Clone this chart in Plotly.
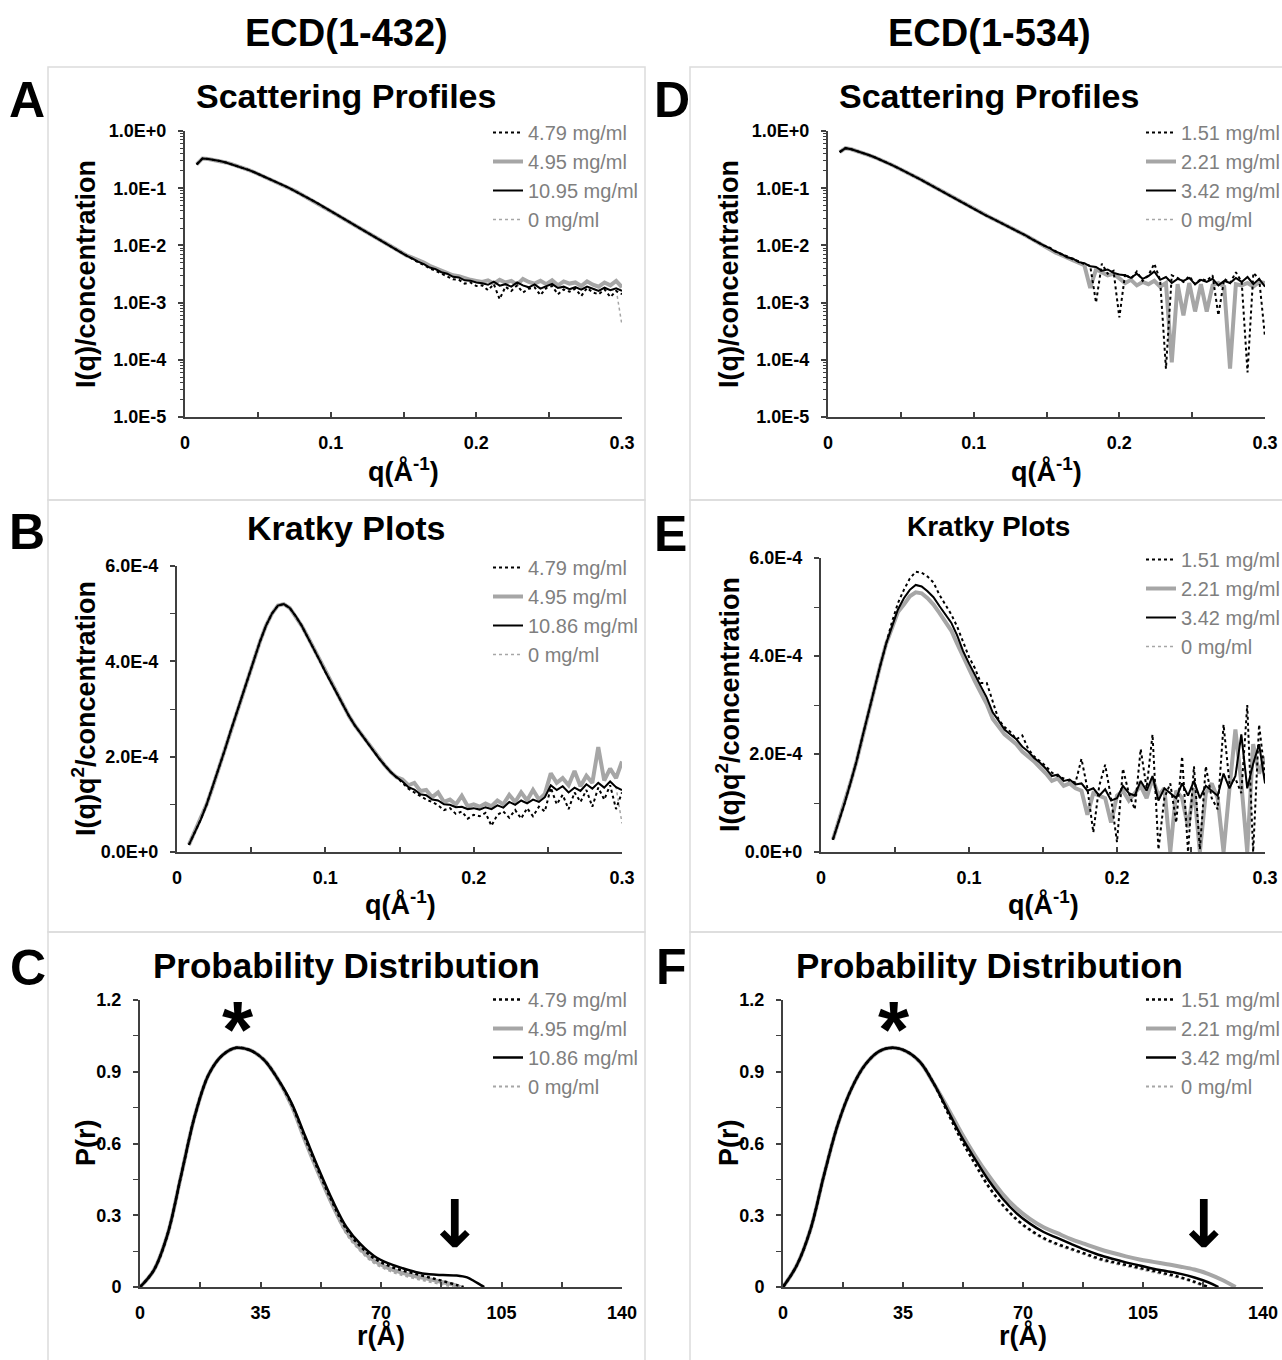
import plotly.graph_objects as go

W, H = 1282, 1360
FONT = "Liberation Sans, Arial, sans-serif"
AX = "#404040"
GRAY = "#a6a6a6"

# ---------------- data ----------------
q = [0.008, 0.012, 0.016, 0.020, 0.024, 0.028, 0.032, 0.036, 0.040, 0.044,
     0.048, 0.052, 0.056, 0.060, 0.064, 0.068, 0.072, 0.076, 0.080, 0.084,
     0.088, 0.092, 0.096, 0.100, 0.104, 0.108, 0.112, 0.116, 0.120, 0.124,
     0.128, 0.132, 0.136, 0.140, 0.144, 0.148, 0.152, 0.156, 0.160, 0.164,
     0.168, 0.172, 0.176, 0.180, 0.184, 0.188, 0.192, 0.196, 0.200, 0.204,
     0.208, 0.212, 0.216, 0.220, 0.224, 0.228, 0.232, 0.236, 0.240, 0.244,
     0.248, 0.252, 0.256, 0.260, 0.264, 0.268, 0.272, 0.276, 0.280, 0.284,
     0.288, 0.292, 0.296, 0.300]

names_432_a = ["4.79 mg/ml", "4.95 mg/ml", "10.95 mg/ml", "0 mg/ml"]
names_432 = ["4.79 mg/ml", "4.95 mg/ml", "10.86 mg/ml", "0 mg/ml"]
names_534 = ["1.51 mg/ml", "2.21 mg/ml", "3.42 mg/ml", "0 mg/ml"]

# Panel A : scattering profile ECD(1-432)
a_smooth = [0.26, 0.331, 0.324, 0.313, 0.299, 0.282, 0.263, 0.245, 0.226, 0.207,
            0.188, 0.170, 0.153, 0.138, 0.124, 0.111, 0.0989, 0.0881, 0.0776, 0.0684,
            0.0603, 0.0525, 0.0457, 0.0398, 0.0347, 0.0302, 0.0263, 0.0229, 0.0200, 0.0174,
            0.0151, 0.0130, 0.0112, 0.00977, 0.00851, 0.00759]
a_mid_s1 = [0.00650, 0.00580, 0.00505, 0.00455, 0.00395, 0.00360, 0.00320, 0.00290, 0.00255, 0.00250, 0.00215, 0.00225, 0.00195]
a_mid_s2 = [0.00670, 0.00610, 0.00560, 0.00500, 0.00440, 0.00400, 0.00370, 0.00330, 0.00300, 0.00290, 0.00265, 0.00250, 0.00240]
a_mid_s3 = [0.00661, 0.00595, 0.00520, 0.00472, 0.00410, 0.00385, 0.00340, 0.00320, 0.00282, 0.00275, 0.00245, 0.00242, 0.00225]
a_tail_s1 = [0.00200, 0.00165, 0.00210, 0.00115, 0.00190, 0.00160, 0.00200, 0.00150, 0.00175, 0.00185,
             0.00135, 0.00180, 0.00195, 0.00140, 0.00170, 0.00155, 0.00175, 0.00130, 0.00180, 0.00150,
             0.00140, 0.00170, 0.00125, 0.00160, 0.00140]
a_tail_s2 = [0.00230, 0.00245, 0.00215, 0.00250, 0.00225, 0.00240, 0.00205, 0.00260, 0.00230, 0.00215,
             0.00240, 0.00210, 0.00245, 0.00200, 0.00235, 0.00215, 0.00225, 0.00195, 0.00235, 0.00205,
             0.00190, 0.00225, 0.00200, 0.00240, 0.00185]
a_tail_s3 = [0.00218, 0.00205, 0.00232, 0.00198, 0.00210, 0.00190, 0.00225, 0.00200, 0.00185, 0.00208,
             0.00176, 0.00195, 0.00212, 0.00180, 0.00190, 0.00172, 0.00186, 0.00168, 0.00190, 0.00175,
             0.00160, 0.00182, 0.00165, 0.00178, 0.00160]
a_tail_s4 = [0.00215, 0.00205, 0.00225, 0.00195, 0.00205, 0.00190, 0.00220, 0.00198, 0.00185, 0.00205,
             0.00178, 0.00192, 0.00208, 0.00180, 0.00188, 0.00172, 0.00184, 0.00168, 0.00186, 0.00174,
             0.00162, 0.00178, 0.00165, 0.00170, 0.00040]

# Panel D : scattering profile ECD(1-534)
d_smooth = [0.427, 0.501, 0.479, 0.447, 0.412, 0.380, 0.347, 0.316, 0.282, 0.254,
            0.226, 0.202, 0.180, 0.158, 0.140, 0.123, 0.108, 0.0955, 0.0832, 0.0724,
            0.0646, 0.0562, 0.0490, 0.0427, 0.0380, 0.0339, 0.0302, 0.0269, 0.0240, 0.0214,
            0.0191, 0.0170, 0.0148, 0.0129, 0.0112, 0.0100]
d_mid_s1 = [0.0092, 0.0080, 0.0070, 0.0065, 0.0057, 0.0053, 0.0047, 0.0044, 0.0010, 0.0048, 0.0032, 0.0036, 0.00055]
d_mid_s2 = [0.0085, 0.0075, 0.0068, 0.0060, 0.0055, 0.0050, 0.0045, 0.0018, 0.0038, 0.0034, 0.0030, 0.0032, 0.0026]
d_mid_s3 = [0.0090, 0.0078, 0.0072, 0.0062, 0.0059, 0.0051, 0.0049, 0.0043, 0.0042, 0.0036, 0.0038, 0.0033, 0.0031]
d_tail_s1 = [0.0032, 0.0026, 0.0035, 0.0024, 0.0030, 0.0048, 0.0025, 0.00007, 0.0030, 0.0027,
             0.0023, 0.0029, 0.0021, 0.0026, 0.0024, 0.0030, 0.00060, 0.0026, 0.0022, 0.0034,
             0.0023, 0.00006, 0.0033, 0.0026, 0.00025]
d_tail_s2 = [0.0022, 0.0025, 0.0020, 0.0023, 0.0021, 0.0024, 0.0019, 0.0022, 0.00009, 0.0021,
             0.00060, 0.0022, 0.00070, 0.0021, 0.00070, 0.0020, 0.0022, 0.0019, 0.00007, 0.0021,
             0.0020, 0.0022, 0.0019, 0.0023, 0.0022]
d_tail_s3 = [0.0030, 0.0027, 0.0032, 0.0026, 0.0029, 0.0035, 0.0025, 0.0028, 0.0022, 0.0026,
             0.0024, 0.0027, 0.0021, 0.0025, 0.0023, 0.0026, 0.0020, 0.0024, 0.0022, 0.0027,
             0.0023, 0.0028, 0.0021, 0.0026, 0.0019]

# Panel B : Kratky ECD(1-432)
b_smooth = [0.15e-4, 0.42e-4, 0.68e-4, 1.00e-4, 1.36e-4, 1.74e-4, 2.12e-4, 2.52e-4, 2.90e-4, 3.30e-4,
            3.70e-4, 4.08e-4, 4.42e-4, 4.75e-4, 5.00e-4, 5.17e-4, 5.20e-4, 5.12e-4, 4.95e-4, 4.75e-4,
            4.52e-4, 4.28e-4, 4.03e-4, 3.78e-4, 3.54e-4, 3.30e-4, 3.07e-4, 2.85e-4, 2.65e-4, 2.48e-4,
            2.30e-4, 2.13e-4, 1.97e-4, 1.82e-4, 1.68e-4, 1.57e-4]
b_mid_s1 = [1.45e-4, 1.33e-4, 1.25e-4, 1.18e-4, 1.10e-4, 1.05e-4, 0.98e-4, 0.88e-4, 0.92e-4, 0.80e-4, 0.85e-4, 0.70e-4, 0.78e-4]
b_mid_s2 = [1.52e-4, 1.40e-4, 1.45e-4, 1.28e-4, 1.30e-4, 1.15e-4, 1.25e-4, 1.05e-4, 1.10e-4, 1.00e-4, 1.18e-4, 0.96e-4, 1.00e-4]
b_mid_s3 = [1.48e-4, 1.36e-4, 1.31e-4, 1.21e-4, 1.19e-4, 1.10e-4, 1.08e-4, 1.00e-4, 0.99e-4, 0.94e-4, 0.95e-4, 0.90e-4, 0.92e-4]
b_tail_s1 = [0.75e-4, 0.82e-4, 0.55e-4, 0.78e-4, 0.85e-4, 0.72e-4, 0.88e-4, 0.70e-4, 0.92e-4, 0.75e-4,
             0.95e-4, 0.85e-4, 1.35e-4, 1.00e-4, 1.20e-4, 0.90e-4, 1.25e-4, 1.05e-4, 1.30e-4, 0.95e-4,
             1.35e-4, 1.10e-4, 1.40e-4, 0.90e-4, 1.25e-4]
b_tail_s2 = [0.95e-4, 1.02e-4, 0.96e-4, 1.08e-4, 1.00e-4, 1.20e-4, 1.05e-4, 1.25e-4, 1.08e-4, 1.30e-4,
             1.10e-4, 1.22e-4, 1.65e-4, 1.45e-4, 1.55e-4, 1.40e-4, 1.70e-4, 1.38e-4, 1.60e-4, 1.45e-4,
             2.20e-4, 1.50e-4, 1.75e-4, 1.55e-4, 1.90e-4]
b_tail_s3 = [0.89e-4, 0.94e-4, 0.90e-4, 0.98e-4, 0.93e-4, 1.05e-4, 0.99e-4, 1.08e-4, 1.02e-4, 1.10e-4,
             1.05e-4, 1.15e-4, 1.40e-4, 1.30e-4, 1.38e-4, 1.25e-4, 1.35e-4, 1.28e-4, 1.42e-4, 1.33e-4,
             1.45e-4, 1.35e-4, 1.48e-4, 1.36e-4, 1.30e-4]
b_tail_s4 = [0.89e-4, 0.94e-4, 0.90e-4, 0.98e-4, 0.93e-4, 1.05e-4, 0.99e-4, 1.08e-4, 1.02e-4, 1.10e-4,
             1.05e-4, 1.15e-4, 1.40e-4, 1.30e-4, 1.38e-4, 1.25e-4, 1.35e-4, 1.28e-4, 1.42e-4, 1.33e-4,
             1.45e-4, 1.35e-4, 1.48e-4, 1.36e-4, 0.60e-4]

# Panel E : Kratky ECD(1-534)
e_head = [0.25e-4, 0.62e-4, 1.00e-4, 1.42e-4, 1.85e-4, 2.35e-4, 2.85e-4, 3.30e-4, 3.80e-4, 4.25e-4]
e_body_s1 = [4.70e-4, 5.08e-4, 5.35e-4, 5.58e-4, 5.72e-4, 5.70e-4, 5.62e-4, 5.50e-4, 5.25e-4, 5.05e-4,
             4.85e-4, 4.60e-4, 4.30e-4, 3.98e-4, 3.75e-4, 3.45e-4, 3.45e-4, 3.05e-4, 2.70e-4, 2.55e-4,
             2.45e-4, 2.30e-4, 2.38e-4, 2.10e-4, 1.95e-4, 1.85e-4]
e_body_s2 = [4.60e-4, 4.90e-4, 5.05e-4, 5.22e-4, 5.30e-4, 5.28e-4, 5.18e-4, 5.05e-4, 4.88e-4, 4.70e-4,
             4.52e-4, 4.25e-4, 3.98e-4, 3.72e-4, 3.48e-4, 3.25e-4, 3.02e-4, 2.72e-4, 2.55e-4, 2.40e-4,
             2.30e-4, 2.20e-4, 2.05e-4, 1.95e-4, 1.85e-4, 1.72e-4]
e_body_s3 = [4.62e-4, 4.95e-4, 5.18e-4, 5.35e-4, 5.45e-4, 5.42e-4, 5.32e-4, 5.20e-4, 5.02e-4, 4.85e-4,
             4.68e-4, 4.42e-4, 4.10e-4, 3.85e-4, 3.60e-4, 3.38e-4, 3.15e-4, 2.85e-4, 2.68e-4, 2.50e-4,
             2.40e-4, 2.30e-4, 2.15e-4, 2.05e-4, 1.92e-4, 1.82e-4]
e_mid_s1 = [1.75e-4, 1.62e-4, 1.55e-4, 1.50e-4, 1.45e-4, 1.42e-4, 1.90e-4, 1.30e-4, 0.40e-4, 1.35e-4, 1.78e-4, 1.10e-4, 0.20e-4]
e_mid_s2 = [1.60e-4, 1.45e-4, 1.50e-4, 1.35e-4, 1.40e-4, 1.30e-4, 1.25e-4, 0.76e-4, 1.20e-4, 1.15e-4, 1.10e-4, 0.60e-4, 1.15e-4]
e_mid_s3 = [1.70e-4, 1.55e-4, 1.58e-4, 1.45e-4, 1.48e-4, 1.38e-4, 1.40e-4, 1.25e-4, 1.30e-4, 1.15e-4, 1.28e-4, 1.05e-4, 1.10e-4]
e_tail_s1 = [1.70e-4, 1.20e-4, 0.87e-4, 2.10e-4, 1.30e-4, 2.40e-4, 0.05e-4, 1.10e-4, 1.40e-4, 0.60e-4,
             1.95e-4, 0.00e-4, 1.75e-4, 0.05e-4, 1.75e-4, 1.10e-4, 0.87e-4, 2.60e-4, 1.40e-4, 1.50e-4,
             1.20e-4, 3.00e-4, 0.00e-4, 2.60e-4, 1.55e-4]
e_tail_s2 = [1.25e-4, 1.05e-4, 1.20e-4, 1.35e-4, 1.10e-4, 1.50e-4, 1.15e-4, 1.30e-4, 0.00e-4, 1.25e-4,
             1.10e-4, 0.50e-4, 1.30e-4, 0.00e-4, 1.20e-4, 1.40e-4, 1.10e-4, 0.00e-4, 1.30e-4, 2.50e-4,
             1.40e-4, 0.00e-4, 2.20e-4, 1.60e-4, 1.95e-4]
e_tail_s3 = [1.35e-4, 1.20e-4, 1.15e-4, 1.45e-4, 1.25e-4, 1.55e-4, 1.05e-4, 1.30e-4, 1.20e-4, 1.10e-4,
             1.40e-4, 1.15e-4, 1.45e-4, 1.10e-4, 1.35e-4, 1.25e-4, 1.15e-4, 1.60e-4, 1.30e-4, 1.55e-4,
             2.40e-4, 1.30e-4, 1.80e-4, 2.20e-4, 1.40e-4]

# Panel C : P(r) ECD(1-432)
c_r_head = [0, 4, 8, 12, 16, 20, 24, 28, 32, 36, 40]
c_p_head = [0.0, 0.07, 0.22, 0.47, 0.72, 0.89, 0.97, 1.0, 0.99, 0.95, 0.87]
c_r_s1 = [44, 48, 52, 56, 60, 64, 68, 72, 76, 80, 84, 88, 92, 94]
c_p_s1 = [0.765, 0.62, 0.48, 0.35, 0.24, 0.17, 0.12, 0.09, 0.07, 0.055, 0.04, 0.025, 0.008, 0.0]
c_r_s2 = [44, 48, 52, 56, 60, 64, 68, 72, 76, 80, 84, 88, 92, 93]
c_p_s2 = [0.76, 0.61, 0.47, 0.34, 0.23, 0.16, 0.11, 0.08, 0.06, 0.045, 0.033, 0.02, 0.006, 0.0]
c_r_s3 = [44, 48, 52, 56, 60, 64, 68, 72, 76, 80, 84, 88, 92, 95, 97, 99, 100]
c_p_s3 = [0.77, 0.63, 0.49, 0.36, 0.25, 0.18, 0.13, 0.10, 0.08, 0.063, 0.053, 0.05, 0.048, 0.04, 0.025, 0.008, 0.0]
c_r_s4 = [44, 48, 52, 56, 60, 64, 68, 72, 76, 80, 84, 88, 91]
c_p_s4 = [0.76, 0.61, 0.465, 0.335, 0.22, 0.15, 0.10, 0.07, 0.05, 0.035, 0.022, 0.01, 0.0]

# Panel F : P(r) ECD(1-534)
f_r_head = [0, 4, 8, 12, 16, 20, 24, 28, 32, 36, 40, 44]
f_p_head = [0.0, 0.09, 0.24, 0.47, 0.68, 0.83, 0.93, 0.985, 1.0, 0.985, 0.94, 0.85]
f_r_s1 = [48, 52, 56, 60, 64, 68, 72, 76, 80, 84, 88, 92, 96, 100, 104, 108, 112, 116, 120, 124]
f_p_s1 = [0.73, 0.615, 0.515, 0.42, 0.345, 0.285, 0.24, 0.205, 0.18, 0.16, 0.14, 0.12, 0.105, 0.093, 0.08, 0.068, 0.055, 0.04, 0.022, 0.0]
f_r_s2 = [48, 52, 56, 60, 64, 68, 72, 76, 80, 84, 88, 92, 96, 100, 104, 108, 112, 116, 120, 124, 128, 132]
f_p_s2 = [0.75, 0.645, 0.55, 0.465, 0.39, 0.33, 0.285, 0.25, 0.225, 0.20, 0.18, 0.16, 0.143, 0.128, 0.115, 0.105, 0.095, 0.085, 0.073, 0.055, 0.03, 0.0]
f_r_s3 = [48, 52, 56, 60, 64, 68, 72, 76, 80, 84, 88, 92, 96, 100, 104, 108, 112, 116, 120, 124, 127]
f_p_s3 = [0.74, 0.63, 0.535, 0.445, 0.37, 0.31, 0.265, 0.23, 0.205, 0.18, 0.156, 0.135, 0.118, 0.103, 0.09, 0.076, 0.066, 0.055, 0.04, 0.02, 0.0]
f_r_s4 = [48, 52, 56, 60, 64, 68, 72, 76, 80, 84, 88, 92, 96, 100, 104, 108, 112, 116, 120, 123]
f_p_s4 = [0.73, 0.615, 0.51, 0.415, 0.34, 0.28, 0.235, 0.2, 0.175, 0.155, 0.135, 0.115, 0.1, 0.088, 0.075, 0.062, 0.05, 0.036, 0.018, 0.0]

log_tickvals = [1e-5, 1e-4, 1e-3, 1e-2, 1e-1, 1]
log_ticktext = ["1.0E-5", "1.0E-4", "1.0E-3", "1.0E-2", "1.0E-1", "1.0E+0"]
k_tickvals = [0, 2e-4, 4e-4, 6e-4]
k_ticktext = ["0.0E+0", "2.0E-4", "4.0E-4", "6.0E-4"]
p_tickvals = [0, 0.3, 0.6, 0.9, 1.2]
p_ticktext = ["0", "0.3", "0.6", "0.9", "1.2"]
q_tickvals = [0, 0.1, 0.2, 0.3]
q_ticktext = ["0", "0.1", "0.2", "0.3"]
r_tickvals = [0, 35, 70, 105, 140]
r_ticktext = ["0", "35", "70", "105", "140"]

# ---------------- styles ----------------
ST_Q = {
    "s1": dict(color="black", width=2, dash="dot"),
    "s2": dict(color=GRAY, width=4),
    "s3": dict(color="black", width=2),
    "s4": dict(color=GRAY, width=1.5, dash="dot"),
}
ST_P = {
    "s1": dict(color="black", width=2.5, dash="dot"),
    "s2": dict(color=GRAY, width=4),
    "s3": dict(color="black", width=2.5),
    "s4": dict(color=GRAY, width=2, dash="dot"),
}

fig = go.Figure()


def add(xs, ys, name, style, xa, ya, leg, rank, shape="linear"):
    fig.add_trace(go.Scatter(
        x=xs, y=ys, name=name, mode="lines",
        line=dict(shape=shape, **style),
        xaxis=xa, yaxis=ya, legend=leg, legendrank=rank,
    ))


def add_q_panel(xa, ya, leg, names, series):
    # draw order: s4, s2, s3, s1 ; legend order s1..s4
    for key, rank in (("s4", 4), ("s2", 2), ("s3", 3), ("s1", 1)):
        add(q, series[key], names[rank - 1], ST_Q[key], xa, ya, leg, rank)


def add_p_panel(xa, ya, leg, names, series):
    for key, rank in (("s4", 4), ("s2", 2), ("s3", 3), ("s1", 1)):
        xs, ys = series[key]
        add(xs, ys, names[rank - 1], ST_P[key], xa, ya, leg, rank, shape="spline")


add_q_panel("x", "y", "legend", names_432_a, {
    "s1": a_smooth + a_mid_s1 + a_tail_s1,
    "s2": a_smooth + a_mid_s2 + a_tail_s2,
    "s3": a_smooth + a_mid_s3 + a_tail_s3,
    "s4": a_smooth + a_mid_s3 + a_tail_s4,
})
add_q_panel("x2", "y2", "legend2", names_432, {
    "s1": b_smooth + b_mid_s1 + b_tail_s1,
    "s2": b_smooth + b_mid_s2 + b_tail_s2,
    "s3": b_smooth + b_mid_s3 + b_tail_s3,
    "s4": b_smooth + b_mid_s3 + b_tail_s4,
})
add_p_panel("x3", "y3", "legend3", names_432, {
    "s1": (c_r_head + c_r_s1, c_p_head + c_p_s1),
    "s2": (c_r_head + c_r_s2, c_p_head + c_p_s2),
    "s3": (c_r_head + c_r_s3, c_p_head + c_p_s3),
    "s4": (c_r_head + c_r_s4, c_p_head + c_p_s4),
})
add_q_panel("x4", "y4", "legend4", names_534, {
    "s1": d_smooth + d_mid_s1 + d_tail_s1,
    "s2": d_smooth + d_mid_s2 + d_tail_s2,
    "s3": d_smooth + d_mid_s3 + d_tail_s3,
    "s4": d_smooth + d_mid_s3 + d_tail_s3,
})
add_q_panel("x5", "y5", "legend5", names_534, {
    "s1": e_head + e_body_s1 + e_mid_s1 + e_tail_s1,
    "s2": e_head + e_body_s2 + e_mid_s2 + e_tail_s2,
    "s3": e_head + e_body_s3 + e_mid_s3 + e_tail_s3,
    "s4": e_head + e_body_s3 + e_mid_s3 + e_tail_s3,
})
add_p_panel("x6", "y6", "legend6", names_534, {
    "s1": (f_r_head + f_r_s1, f_p_head + f_p_s1),
    "s2": (f_r_head + f_r_s2, f_p_head + f_p_s2),
    "s3": (f_r_head + f_r_s3, f_p_head + f_p_s3),
    "s4": (f_r_head + f_r_s4, f_p_head + f_p_s4),
})

# ---------------- axes ----------------
TICKFONT = dict(family=FONT, size=18, color="black", weight="bold")


def xaxis(px0, px1, anchor, rng, tv, tt, minor_vals):
    return dict(
        domain=[px0 / W, px1 / W], anchor=anchor, range=rng,
        tickmode="array", tickvals=tv, ticktext=tt,
        ticks="inside", ticklen=5, tickwidth=1.5, tickcolor=AX,
        minor=dict(tickmode="array", tickvals=minor_vals, ticks="inside",
                   ticklen=5, tickwidth=1.5, tickcolor=AX, showgrid=False),
        showline=True, linecolor=AX, linewidth=2,
        showgrid=False, zeroline=False, tickfont=TICKFONT,
        ticklabelstandoff=8, fixedrange=True, automargin=False,
    )


def yaxis(py_top, py_bot, anchor, rng, tv, tt, minor_vals, typ="linear", minor_len=5):
    return dict(
        domain=[1 - py_bot / H, 1 - py_top / H], anchor=anchor, range=rng, type=typ,
        tickmode="array", tickvals=tv, ticktext=tt,
        ticks="outside", ticklen=5, tickwidth=1.5, tickcolor=AX,
        minor=dict(tickmode="array", tickvals=minor_vals, ticks="outside",
                   ticklen=minor_len, tickwidth=1, tickcolor=AX, showgrid=False),
        showline=True, linecolor=AX, linewidth=2,
        showgrid=False, zeroline=False, tickfont=TICKFONT,
        ticklabelstandoff=8, fixedrange=True, automargin=False,
    )


log_minor = [m * 10.0 ** e for e in range(-5, 0) for m in range(2, 10)]
q_minor = [0.05, 0.15, 0.25]
r_minor = [17.5, 52.5, 87.5, 122.5]
k_minor = [1e-4, 3e-4, 5e-4]
p_minor = [0.15, 0.45, 0.75, 1.05]

fig.update_layout(
    xaxis=xaxis(185, 622, "y", [0, 0.3], q_tickvals, q_ticktext, q_minor),
    yaxis=yaxis(131, 417, "x", [-5, 0], log_tickvals, log_ticktext, log_minor, "log", 3),
    xaxis2=xaxis(177, 622, "y2", [0, 0.3], q_tickvals, q_ticktext, q_minor),
    yaxis2=yaxis(566, 852, "x2", [0, 6e-4], k_tickvals, k_ticktext, k_minor),
    xaxis3=xaxis(140, 622, "y3", [0, 140], r_tickvals, r_ticktext, r_minor),
    yaxis3=yaxis(1000, 1287, "x3", [0, 1.2], p_tickvals, p_ticktext, p_minor),
    xaxis4=xaxis(828, 1265, "y4", [0, 0.3], q_tickvals, q_ticktext, q_minor),
    yaxis4=yaxis(131, 417, "x4", [-5, 0], log_tickvals, log_ticktext, log_minor, "log", 3),
    xaxis5=xaxis(821, 1265, "y5", [0, 0.3], q_tickvals, q_ticktext, q_minor),
    yaxis5=yaxis(558, 852, "x5", [0, 6e-4], k_tickvals, k_ticktext, k_minor),
    xaxis6=xaxis(783, 1263, "y6", [0, 140], r_tickvals, r_ticktext, r_minor),
    yaxis6=yaxis(1000, 1287, "x6", [0, 1.2], p_tickvals, p_ticktext, p_minor),
)

# ---------------- legends ----------------
LEGFONT = dict(family=FONT, size=20, color="#7f7f7f")


def legend(px_right, py_top):
    return dict(x=px_right / W, y=1 - py_top / H, xanchor="right", yanchor="top",
                bgcolor="rgba(0,0,0,0)", font=LEGFONT, tracegroupgap=0,
                itemwidth=30, traceorder="normal")


fig.update_layout(
    legend=legend(644, 113),
    legend2=legend(644, 548),
    legend3=legend(644, 980),
    legend4=legend(1285, 113),
    legend5=legend(1285, 540),
    legend6=legend(1285, 980),
)

# ---------------- annotations ----------------


def ann(text, x, y, size, angle=0, family=FONT, weight="bold"):
    return dict(text=text, x=x / W, y=1 - y / H, xref="paper", yref="paper",
                showarrow=False, xanchor="center", yanchor="middle", textangle=angle,
                font=dict(family=family, size=size, color="black", weight=weight))


annotations = [
    ann("ECD(1-432)", 346, 33, 38),
    ann("ECD(1-534)", 990, 33, 38),
    ann("A", 27, 100, 50), ann("B", 27, 532, 50), ann("C", 28, 968, 50),
    ann("D", 672, 100, 50), ann("E", 670, 534, 50), ann("F", 671, 967, 50),
    ann("Scattering Profiles", 346, 96, 34),
    ann("Scattering Profiles", 989, 96, 34),
    ann("Kratky Plots", 346, 528, 34),
    ann("Kratky Plots", 988, 527, 28),
    ann("Probability Distribution", 346, 965, 35),
    ann("Probability Distribution", 989, 965, 35),
    ann("I(q)/concentration", 86, 274, 27, -90),
    ann("I(q)/concentration", 729, 274, 27, -90),
    ann("I(q)q<sup>2</sup>/concentration", 84, 709, 27, -90),
    ann("I(q)q<sup>2</sup>/concentration", 728, 705, 27, -90),
    ann("P(r)", 86, 1143, 27, -90),
    ann("P(r)", 729, 1143, 27, -90),
    ann("q(Å<sup>-1</sup>)", 403, 470, 27),
    ann("q(Å<sup>-1</sup>)", 1046, 470, 27),
    ann("q(Å<sup>-1</sup>)", 400, 903, 27),
    ann("q(Å<sup>-1</sup>)", 1043, 903, 27),
    ann("r(Å)", 381, 1335, 27),
    ann("r(Å)", 1023, 1335, 27),
    ann("*", 238, 1029, 80),
    ann("*", 894, 1029, 80),
    ann("↓", 454, 1224, 66, family="DejaVu Sans"),
    ann("↓", 1203, 1224, 66, family="DejaVu Sans"),
]

shapes = []
for x0, x1 in ((48, 645), (690, 1292)):
    for y0, y1 in ((67, 500), (500, 932), (932, 1370)):
        shapes.append(dict(type="rect", xref="paper", yref="paper",
                           x0=x0 / W, x1=x1 / W, y0=1 - y1 / H, y1=1 - y0 / H,
                           line=dict(color="#dcdcdc", width=1.5), layer="below"))

fig.update_layout(
    width=W, height=H, autosize=False,
    margin=dict(l=0, r=0, t=0, b=0, pad=0, autoexpand=False),
    paper_bgcolor="white", plot_bgcolor="rgba(0,0,0,0)",
    font=dict(family=FONT, color="black"),
    annotations=annotations, shapes=shapes,
    showlegend=True,
)

fig.write_html("out.html",
               config={"displayModeBar": False, "responsive": False},
               post_script="document.body.style.margin='0px';document.body.style.overflow='hidden';")
